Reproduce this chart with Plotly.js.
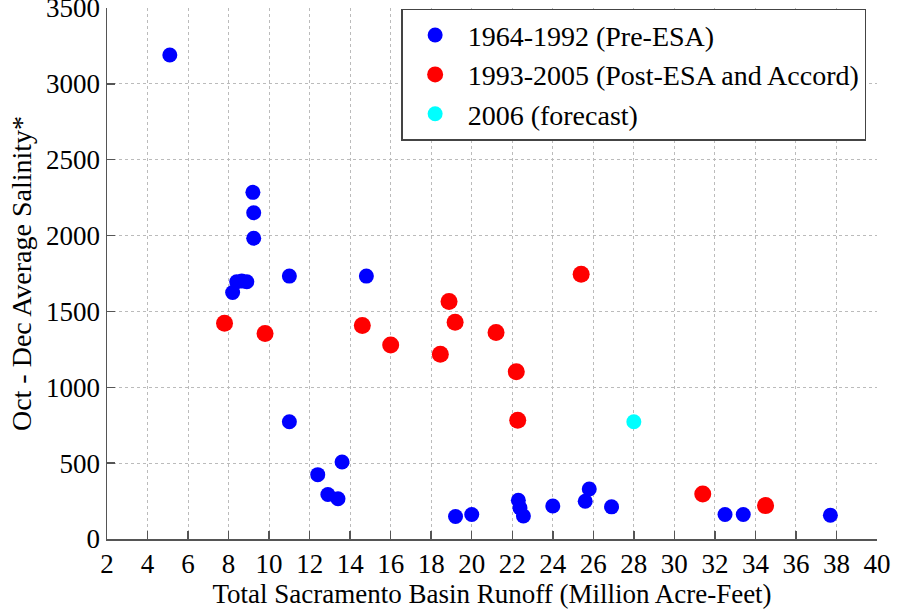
<!DOCTYPE html>
<html>
<head>
<meta charset="utf-8">
<script src="https://cdn.plot.ly/plotly-3.0.1.min.js"></script>
<style>html,body{margin:0;padding:0;background:#fff;}#chart{width:901px;height:611px;}</style>
</head>
<body>
<div id="chart"></div>
<script>
// 1964-1992 (Pre-ESA)
const preX = [5.1, 9.2, 9.24, 9.24, 8.2, 8.4, 8.65, 8.9, 11.0, 14.8, 11.0, 12.4, 13.6, 12.9, 13.4, 19.2, 20.0, 22.3, 22.38, 22.55, 24.0, 25.6, 25.8, 26.9, 32.5, 33.4, 37.7];
const preY = [3190, 2285, 2150, 1982, 1625, 1696, 1700, 1696, 1733, 1733, 773, 424, 508, 293, 265, 148, 161, 255, 205, 152, 218, 249, 330, 212, 161, 161, 157];
// 1993-2005 (Post-ESA and Accord)
const postX = [7.8, 9.8, 14.6, 16.0, 18.45, 18.88, 19.18, 21.2, 22.2, 22.27, 25.4, 31.4, 34.5];
const postY = [1422, 1354, 1407, 1278, 1218, 1565, 1429, 1361, 1102, 782, 1745, 297, 220];
// 2006 (forecast)
const fcX = [28.0];
const fcY = [773];

const names = ['1964-1992 (Pre-ESA)', '1993-2005 (Post-ESA and Accord)', '2006 (forecast)'];
const xTicks = [2,4,6,8,10,12,14,16,18,20,22,24,26,28,30,32,34,36,38,40];
const yTicks = [0,500,1000,1500,2000,2500,3000,3500];

const FONT = 'Liberation Serif';

const traces = [
  {x: preX, y: preY, name: names[0], type: 'scatter', mode: 'markers',
   marker: {color: '#0000ff', size: 15, symbol: 'circle'}},
  {x: postX, y: postY, name: names[1], type: 'scatter', mode: 'markers',
   marker: {color: '#ff0000', size: 17, symbol: 'circle'}},
  {x: fcX, y: fcY, name: names[2], type: 'scatter', mode: 'markers',
   marker: {color: '#00ffff', size: 15, symbol: 'circle'}}
];

const axisCommon = {
  showline: true, linecolor: '#555', linewidth: 1.5,
  ticks: 'inside', ticklen: 8, tickcolor: '#555', tickwidth: 1.5,
  showgrid: true, gridcolor: '#bbbbbb', griddash: 'dot', gridwidth: 1,
  zeroline: false, ticklabeloverflow: 'allow',
  tickfont: {family: FONT, size: 27, color: '#000'}
};

const layout = {
  width: 901, height: 611,
  margin: {l: 107, r: 24, t: 8, b: 72},
  paper_bgcolor: '#fff', plot_bgcolor: '#fff',
  font: {family: FONT, color: '#000'},
  showlegend: true,
  xaxis: Object.assign({}, axisCommon, {
    range: [2, 40], tickvals: xTicks, ticktext: xTicks.map(String),
    title: {text: 'Total Sacramento Basin Runoff (Million Acre-Feet)', font: {family: FONT, size: 27}, standoff: 4}
  }),
  yaxis: Object.assign({}, axisCommon, {
    range: [0, 3500], tickvals: yTicks, ticktext: yTicks.map(String),
    title: {text: 'Oct - Dec Average Salinity*', font: {family: FONT, size: 28}, standoff: 6}
  }),
  legend: {
    x: 0.382, y: 0.9985, xanchor: 'left', yanchor: 'top',
    bgcolor: '#fff', bordercolor: '#444', borderwidth: 1.5,
    font: {family: FONT, size: 28, color: '#000'},
    itemwidth: 55, tracegroupgap: 0
  }
};

Plotly.newPlot('chart', traces, layout, {staticPlot: true, displayModeBar: false});
</script>
</body>
</html>
